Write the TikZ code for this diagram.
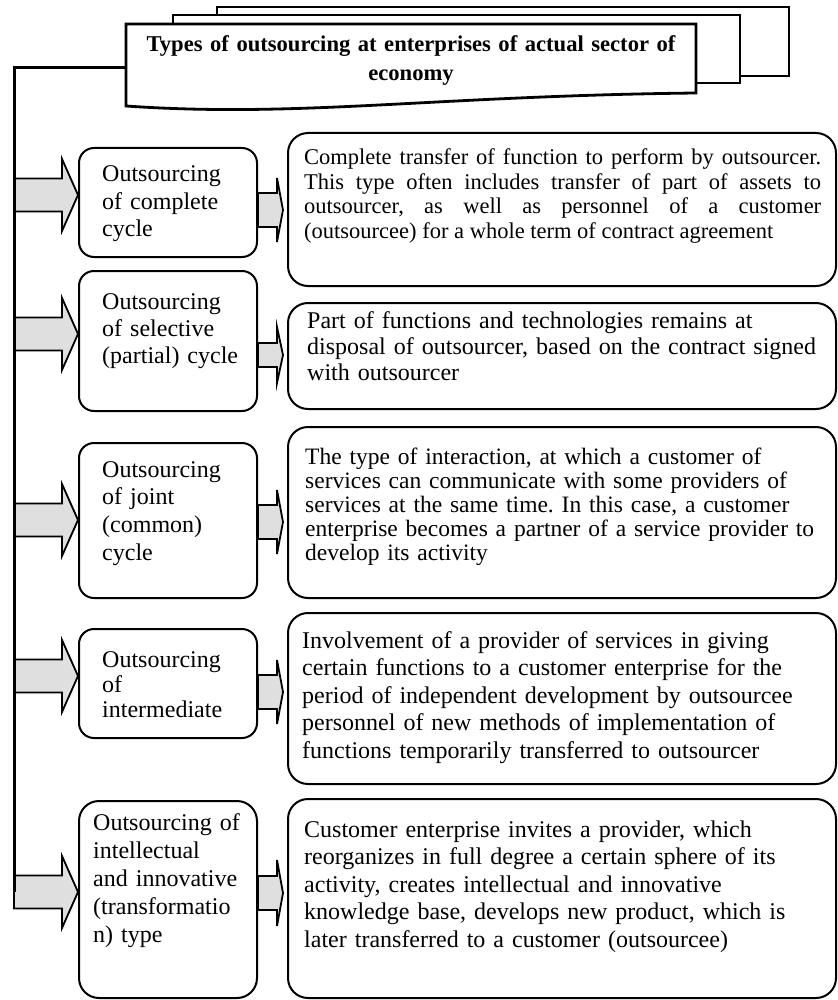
\documentclass[tikz,border=0pt]{standalone}
\usepackage{fontspec}
\setmainfont{Liberation Serif}
\usetikzlibrary{calc}
\frenchspacing
\newcommand\blockarrow[5]{%
  \path[blockarr] let \p1=(#1), \p2=(#2) in
    (\x1,\y2+#4) -- (\x2-#3,\y2+#4) -- (\x2-#3,\y2+#5) -- (\x2,\y2)
    -- (\x2-#3,\y2-#5) -- (\x2-#3,\y2-#4) -- (\x1,\y2-#4) -- cycle;}
\begin{document}
\begin{tikzpicture}[x=1pt,y=-1pt,
  lbox/.style={draw, line width=2pt, rounded corners=15pt, fill=white, inner sep=0pt, anchor=north west},
  rbox/.style={draw, line width=2pt, rounded corners=20pt, fill=white, inner sep=0pt, anchor=north west},
  ltxt/.style={anchor=base west, inner sep=0pt, text width=170pt, align=left, font=\fontsize{24}{27.5}\selectfont},
  rtxt/.style={anchor=base west, inner sep=0pt, text width=530pt, align=left},
  blockarr/.style={draw, line width=1.8pt, fill=gray!25, line join=miter},
  frame/.style={draw, fill=white, line width=2.8pt},
  trunk/.style={draw, line width=3pt}]
\fill[white] (0,0) rectangle (837,1000);
\useasboundingbox (0,0) rectangle (837,1000);

% header
\draw[frame] (217,7) rectangle (789,76);
\draw[frame] (173,15) rectangle (740,83);
\draw[frame] (126,24) -- (696,24) -- (696,93) .. controls (430,96) and (300,118) .. (126,106) -- cycle;
\node[anchor=base, inner sep=0pt, text width=560pt, align=center,
      font=\bfseries\fontsize{22.6}{29}\selectfont] (T) at (411,52)
  {Types of outsourcing at enterprises of actual sector of\\economy};
\coordinate (hdrL) at (126,68);
\coordinate (tkend) at (14,892);

% boxes
\node[lbox, minimum width=178pt, minimum height=109pt] (L1) at (78,147) {};
\node[lbox, minimum width=178pt, minimum height=140pt] (L2) at (78,270) {};
\node[lbox, minimum width=178pt, minimum height=155pt] (L3) at (78,442) {};
\node[lbox, minimum width=178pt, minimum height=109pt] (L4) at (78,628) {};
\node[lbox, minimum width=178pt, minimum height=197pt, rounded corners=20pt] (L5) at (78,800) {};

\node[rbox, minimum width=548pt, minimum height=153pt] (R1) at (287,132) {};
\node[rbox, minimum width=548pt, minimum height=106pt] (R2) at (287,302) {};
\node[rbox, minimum width=548pt, minimum height=171pt] (R3) at (287,426) {};
\node[rbox, minimum width=548pt, minimum height=171pt] (R4) at (287,612) {};
\node[rbox, minimum width=548pt, minimum height=199pt] (R5) at (287,798) {};

% left block arrows (from trunk)
\blockarrow{tkend}{L1.west |- 0,195}{16pt}{16.5pt}{36pt}
\blockarrow{tkend}{L2.west |- 0,334}{16pt}{16.5pt}{36pt}
\blockarrow{tkend}{L3.west |- 0,520}{16pt}{16.5pt}{36pt}
\blockarrow{tkend}{L4.west |- 0,676}{16pt}{16.5pt}{36pt}
\blockarrow{tkend}{L5.west |- 0,892}{16pt}{16.5pt}{36pt}

% small block arrows
\blockarrow{L1.east}{$(R1.west |- 0,210)+(-4,0)$}{6pt}{17pt}{32pt}
\blockarrow{L2.east}{$(R2.west |- 0,355)+(-4,0)$}{6pt}{12pt}{28pt}
\blockarrow{L3.east}{$(R3.west |- 0,522)+(-4,0)$}{6pt}{17pt}{32pt}
\blockarrow{L4.east}{$(R4.west |- 0,692)+(-4,0)$}{6pt}{17pt}{32pt}
\blockarrow{L5.east}{$(R5.west |- 0,893)+(-4,0)$}{6pt}{17pt}{33pt}

% trunk
\draw[trunk] (hdrL) -| (tkend);

% left texts
\node[ltxt] (L1t) at (102,182) {Outsourcing\\of complete\\cycle};
\node[ltxt, font=\fontsize{24}{27}\selectfont] (L2t) at (102,309) {Outsourcing\\of selective\\(partial) cycle};
\node[ltxt, font=\fontsize{24}{27.7}\selectfont] (L3t) at (102,477) {Outsourcing\\of joint\\(common)\\cycle};
\node[ltxt, font=\fontsize{24}{25}\selectfont] (L4t) at (102,667) {Outsourcing\\of\\intermediate};
\node[ltxt, font=\fontsize{24}{28}\selectfont] (L5t) at (93,830) {Outsourcing of\\intellectual\\and innovative\\(transformatio\\n) type};

% right texts
\node[rtxt, text width=517pt, align=justify, font=\fontsize{22.5}{24.5}\selectfont] (R1t) at (304,165)
  {Complete transfer of function to perform by outsourcer.\linebreak
   This type often includes transfer of part of assets to\linebreak
   outsourcer, as well as personnel of a customer\linebreak
   (outsourcee) for a whole term of contract agreement};
\node[rtxt, font=\fontsize{24}{26}\selectfont] (R2t) at (307,328)
  {Part of functions and technologies remains at\\
   disposal of outsourcer, based on the contract signed\\
   with outsourcer};
\node[rtxt, font=\fontsize{23.5}{24}\selectfont] (R3t) at (305,464)
  {The type of interaction, at which a customer of\\
   services can communicate with some providers of\\
   services at the same time. In this case, a customer\\
   enterprise becomes a partner of a service provider to\\
   develop its activity};
\node[rtxt, font=\fontsize{24}{27.5}\selectfont] (R4t) at (302,648)
  {Involvement of a provider of services in giving\\
   certain functions to a customer enterprise for the\\
   period of independent development by outsourcee\\
   personnel of new methods of implementation of\\
   functions temporarily transferred to outsourcer};
\node[rtxt, font=\fontsize{24}{27.5}\selectfont] (R5t) at (304,837)
  {Customer enterprise invites a provider, which\\
   reorganizes in full degree a certain sphere of its\\
   activity, creates intellectual and innovative\\
   knowledge base, develops new product, which is\\
   later transferred to a customer (outsourcee)};
\end{tikzpicture}
\end{document}
